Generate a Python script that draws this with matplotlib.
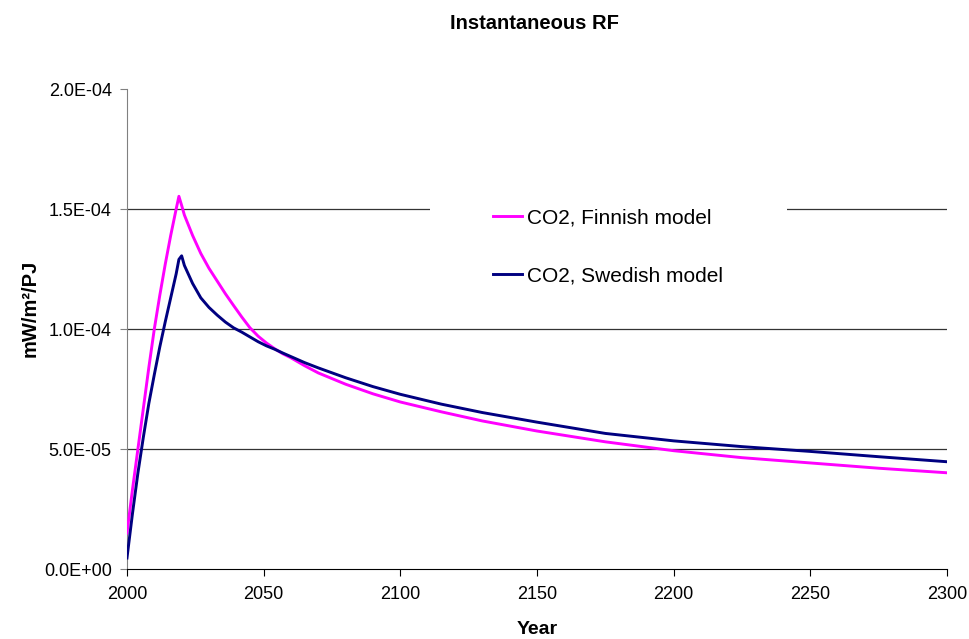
import matplotlib
matplotlib.use("Agg")
import matplotlib.pyplot as plt
from matplotlib.ticker import FuncFormatter
from matplotlib.patches import Rectangle

plt.rcParams['font.family'] = ['Liberation Sans', 'DejaVu Sans']

# valores (mW/m2/PJ)
anios = [2000, 2002, 2004, 2006, 2008, 2010, 2012, 2014, 2016, 2018, 2019,
         2020, 2021, 2024, 2027, 2030, 2033, 2036, 2039, 2042, 2045, 2048,
         2051, 2054, 2057, 2060, 2065, 2070, 2080, 2090, 2100, 2115, 2130,
         2150, 2175, 2200, 2225, 2250, 2275, 2300]

finlandes = [1.50e-5, 3.30e-5, 5.00e-5, 6.70e-5, 8.40e-5, 1.00e-4, 1.14e-4,
             1.27e-4, 1.39e-4, 1.50e-4, 1.553e-4, 1.515e-4, 1.475e-4, 1.39e-4,
             1.315e-4, 1.253e-4, 1.20e-4, 1.147e-4, 1.098e-4, 1.05e-4, 1.005e-4,
             9.70e-5, 9.42e-5, 9.18e-5, 8.97e-5, 8.80e-5, 8.47e-5, 8.17e-5,
             7.70e-5, 7.30e-5, 6.96e-5, 6.55e-5, 6.17e-5, 5.75e-5, 5.30e-5,
             4.93e-5, 4.64e-5, 4.42e-5, 4.20e-5, 4.01e-5]

sueco = [4.6e-6, 2.30e-5, 4.00e-5, 5.50e-5, 6.90e-5, 8.10e-5, 9.25e-5,
         1.03e-4, 1.13e-4, 1.23e-4, 1.29e-4, 1.305e-4, 1.265e-4, 1.19e-4,
         1.13e-4, 1.09e-4, 1.058e-4, 1.029e-4, 1.005e-4, 9.87e-5, 9.67e-5,
         9.47e-5, 9.30e-5, 9.16e-5, 9.00e-5, 8.85e-5, 8.60e-5, 8.38e-5,
         7.97e-5, 7.60e-5, 7.28e-5, 6.87e-5, 6.52e-5, 6.12e-5, 5.65e-5,
         5.34e-5, 5.10e-5, 4.90e-5, 4.68e-5, 4.47e-5]

etiquetas = ['CO2, Finnish model', 'CO2, Swedish model']

fig = plt.figure(figsize=(9.7, 6.39), dpi=100)
ax = fig.add_axes([0.1309, 0.1095, 0.8454, 0.7512])

ax.plot(anios, finlandes, color='#FF00FF', lw=2.1, label=etiquetas[0], zorder=3)
ax.plot(anios, sueco, color='#000080', lw=2.1, label=etiquetas[1], zorder=3)

ax.set_xlim(2000, 2300)
ax.set_ylim(0, 2.0e-4)
ax.set_xticks([2000, 2050, 2100, 2150, 2200, 2250, 2300])
ax.set_yticks([0, 5e-5, 1e-4, 1.5e-4, 2e-4])
ax.yaxis.set_major_formatter(FuncFormatter(lambda v, p: f"{v:.1E}"))

# lineas de grilla (sin la de arriba)
for g in [5e-5, 1e-4, 1.5e-4]:
    ax.axhline(g, color='#333333', lw=0.9, zorder=1)

# fondo blanco de la leyenda tapa la grilla
ax.add_patch(Rectangle((0.3695, 0.54), 0.4355, 0.26, transform=ax.transAxes,
                       facecolor='white', edgecolor='none', zorder=2))

ax.spines['top'].set_visible(False)
ax.spines['right'].set_visible(False)
ax.spines['left'].set_color('#808080')
ax.spines['bottom'].set_color('#000000')
ax.tick_params(axis='both', direction='out', length=5, labelsize=13)
ax.tick_params(axis='y', colors='#808080', labelcolor='black', pad=6)
ax.tick_params(axis='x', pad=7)

ax.set_xlabel('Year', fontsize=14, fontweight='bold')
ax.xaxis.set_label_coords(0.5, -0.108)
ax.set_ylabel('mW/m²/PJ', fontsize=14.5, fontweight='bold')
ax.yaxis.set_label_coords(-0.106, 0.542)
fig.text(0.5505, 0.963, 'Instantaneous RF', ha='center', va='center',
         fontsize=14.5, fontweight='bold')

ax.legend(loc='upper left', bbox_to_anchor=(0.4463, 0.752), frameon=False,
          fontsize=15, handlelength=1.4, handletextpad=0.25, labelspacing=1.9,
          borderpad=0, borderaxespad=0)

fig.savefig('out.png', dpi=100)
